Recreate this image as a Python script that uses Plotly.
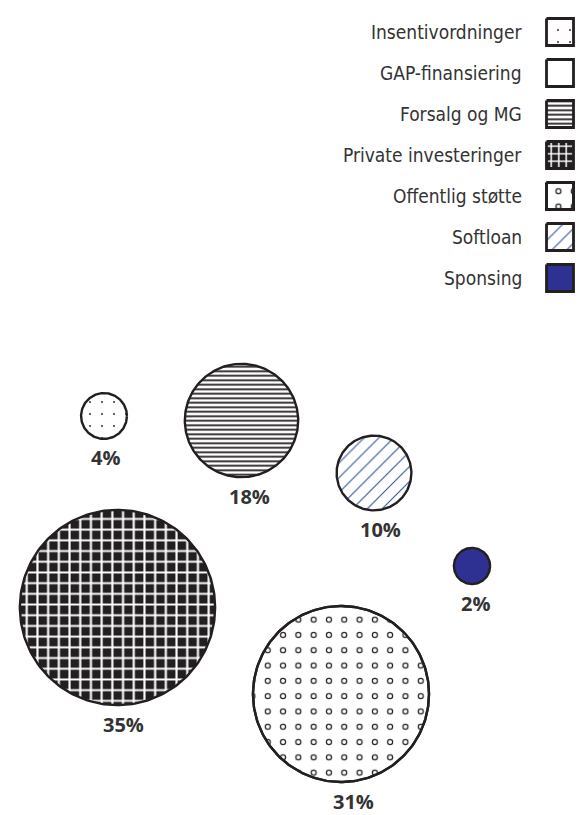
import numpy as np
import plotly.graph_objects as go

# Financing sources and their shares (percent). GAP-finansiering has no bubble.
categories = ["Insentivordninger", "GAP-finansiering", "Forsalg og MG",
              "Private investeringer", "Offentlig støtte", "Softloan", "Sponsing"]
shares = [4, None, 18, 35, 31, 10, 2]

# Bubble centres in pixel units (layout only)
centres = {
    "Insentivordninger": (104, 416),
    "Forsalg og MG": (241.5, 420.5),
    "Private investeringer": (117.5, 607.5),
    "Offentlig støtte": (341, 694),
    "Softloan": (374, 473),
    "Sponsing": (472, 566),
}
# horizontal nudge of the percentage label under each bubble
label_dx = {
    "Insentivordninger": 1.5, "Forsalg og MG": 8, "Private investeringer": 6,
    "Offentlig støtte": 12, "Softloan": 6, "Sponsing": 3,
}

W, H = 580, 815
INK = "#231f20"
TEXT = "#333333"
NAVY = "#2e3192"
HATCH_BLUE = "#2f5096"

# fill pattern per category (None = plain white)
patterns = {
    "Insentivordninger": dict(shape=".", size=12, solidity=0.018, fgcolor=INK, bgcolor="white"),
    "GAP-finansiering": None,
    "Forsalg og MG": dict(shape="-", size=4.5, solidity=0.4, fgcolor=INK, bgcolor="white"),
    "Private investeringer": dict(shape="+", size=10.7, solidity=0.36, fgcolor="white", bgcolor=INK),
    "Offentlig støtte": dict(shape=".", size=15.3, solidity=0.13, fgcolor=INK, bgcolor="white"),
    "Softloan": dict(shape="/", size=10.5, solidity=0.1, fgcolor=HATCH_BLUE, bgcolor="white"),
    "Sponsing": "solid",
}
# inner white dot that turns the black dots into rings
ring_hole = dict(shape=".", size=15.3, solidity=0.05, fgcolor="white", bgcolor="rgba(0,0,0,0)")
# legend swatches use a finer grid than the bubbles
legend_size_override = {"Private investeringer": 7.5}


def radius(v):
    # linear size scale: percent -> pixel radius
    return 13.3 + 2.41 * v


def circle(cx, cy, r, n=240):
    t = np.linspace(0, 2 * np.pi, n)
    return cx + r * np.cos(t), cy + r * np.sin(t)


def square(cx, cy, h):
    return ([cx - h, cx + h, cx + h, cx - h, cx - h],
            [cy - h, cy - h, cy + h, cy + h, cy - h])


def add_shape_trace(fig, xs, ys, name, line_w, size_override=None):
    pat = patterns[name]
    kw = dict(x=xs, y=ys, mode="lines", fill="toself", hoverinfo="skip",
              showlegend=False, line=dict(color=INK, width=line_w))
    if pat is None:
        kw["fillcolor"] = "white"
    elif pat == "solid":
        kw["fillcolor"] = NAVY
    else:
        p = dict(pat, fillmode="replace")
        if size_override:
            p["size"] = size_override
        kw["fillcolor"] = pat["bgcolor"]
        kw["fillpattern"] = p
    fig.add_trace(go.Scatter(**kw))
    if name == "Offentlig støtte":
        fig.add_trace(go.Scatter(x=xs, y=ys, mode="lines", fill="toself",
                                 fillcolor="rgba(0,0,0,0)", hoverinfo="skip",
                                 showlegend=False, line=dict(color=INK, width=line_w),
                                 fillpattern=dict(ring_hole, fillmode="replace")))


fig = go.Figure()
annotations = []

# bubbles
for name, v in zip(categories, shares):
    if v is None:
        continue
    cx, cy = centres[name]
    r = radius(v)
    xs, ys = circle(cx, cy, r)
    add_shape_trace(fig, xs, ys, name, 2.4)
    annotations.append(dict(
        x=cx + label_dx[name], y=cy + r + 19, text=f"{v}%", showarrow=False,
        xanchor="center", yanchor="middle", borderpad=0,
        font=dict(family="Open Sans", size=20, color=TEXT, weight="bold")))

# legend column (top right)
LEG_X, LEG_Y0, LEG_STEP, BOX_HALF = 560, 32, 41, 13.5
for i, name in enumerate(categories):
    y = LEG_Y0 + i * LEG_STEP
    xs, ys = square(LEG_X, y, BOX_HALF)
    add_shape_trace(fig, xs, ys, name, 2.8, legend_size_override.get(name))
    annotations.append(dict(
        x=524, y=y, text=name, showarrow=False, xanchor="right", yanchor="middle",
        font=dict(family="Liberation Sans Narrow, DejaVu Sans Condensed, sans-serif",
                  size=19, color=TEXT)))

fig.update_layout(
    width=W, height=H,
    margin=dict(l=0, r=0, t=0, b=0),
    paper_bgcolor="white", plot_bgcolor="white",
    xaxis=dict(range=[0, W], visible=False, fixedrange=True),
    yaxis=dict(range=[H, 0], visible=False, fixedrange=True),
    annotations=annotations,
    showlegend=False,
)

fig.write_html("out.html", config=dict(displayModeBar=False))
